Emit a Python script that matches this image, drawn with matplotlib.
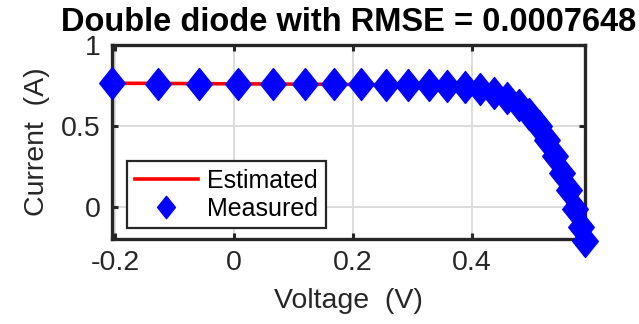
import matplotlib
matplotlib.use("Agg")
import matplotlib.pyplot as plt
from matplotlib.path import Path

# RTC France cell, measured I-V points
voltage = [-0.2057, -0.1291, -0.0588, 0.0057, 0.0646, 0.1185, 0.1678, 0.2132,
           0.2545, 0.2924, 0.3269, 0.3585, 0.3873, 0.4137, 0.4373, 0.4590,
           0.4784, 0.4960, 0.5119, 0.5265, 0.5398, 0.5521, 0.5633, 0.5736,
           0.5833, 0.5900]
current_meas = [0.7640, 0.7620, 0.7605, 0.7605, 0.7600, 0.7590, 0.7570, 0.7570,
                0.7555, 0.7540, 0.7505, 0.7465, 0.7385, 0.7280, 0.7065, 0.6755,
                0.6320, 0.5730, 0.4990, 0.4130, 0.3165, 0.2120, 0.1035, -0.0100,
                -0.1230, -0.2100]
# double diode model output
current_est = [0.7640, 0.7627, 0.7614, 0.7602, 0.7591, 0.7580, 0.7571, 0.7561,
               0.7550, 0.7536, 0.7513, 0.7472, 0.7405, 0.7295, 0.7101, 0.6781,
               0.6314, 0.5714, 0.4997, 0.4129, 0.3177, 0.2130, 0.1020, -0.0076,
               -0.1287, -0.2084]
rmse = 0.0007648

plt.rcParams['font.family'] = ['Liberation Sans', 'DejaVu Sans']

# matlab style diamond, a bit taller than wide
diamond = Path([(0, 1), (0.8, 0), (0, -1), (-0.8, 0), (0, 1)],
               [Path.MOVETO, Path.LINETO, Path.LINETO, Path.LINETO, Path.CLOSEPOLY])

fig = plt.figure(figsize=(6.39, 3.24), dpi=100)
ax = fig.add_axes([0.1753, 0.2614, 0.7402, 0.5997])
dark = "#262626"

ax.plot(voltage, current_est, color="red", linewidth=2.6, label="Estimated", zorder=3)
ax.plot(voltage, current_meas, linestyle="none", marker=diamond, markersize=23,
        color="blue", markeredgecolor="blue", label="Measured", clip_on=False, zorder=5)

ax.set_xlim(-0.2057, 0.59)
ax.set_ylim(-0.2, 1)
ax.set_xticks([-0.2, 0, 0.2, 0.4])
ax.set_xticklabels(["-0.2", "0", "0.2", "0.4"])
ax.set_yticks([0, 0.5, 1])
ax.set_yticklabels(["0", "0.5", "1"])

ax.grid(True, color="#dcdcdc", linewidth=1.4)
ax.set_axisbelow(True)
for s in ax.spines.values():
    s.set_color(dark)
    s.set_linewidth(2.4)
ax.tick_params(direction="in", length=4, width=2.2, color=dark, labelsize=20.5,
               labelcolor=dark, top=True, right=True, pad=8)

ax.set_xlabel("Voltage  (V)", fontsize=20.5, color=dark, labelpad=8)
ax.set_ylabel("Current  (A)", fontsize=20.5, color=dark, labelpad=8)
ax.set_title(f"Double diode with RMSE = {rmse}", fontsize=23.5, fontweight="bold",
             pad=10)

leg = ax.legend(loc="lower left", bbox_to_anchor=(127 / 639, 1 - 228 / 324),
                bbox_transform=fig.transFigure, fontsize=18, fancybox=False,
                framealpha=1, edgecolor=dark, borderaxespad=0, handlelength=2.55,
                handletextpad=0.35, borderpad=0.3, labelspacing=0.15, markerscale=0.7)
leg.get_frame().set_linewidth(1.6)

fig.savefig("out.png", dpi=100)
